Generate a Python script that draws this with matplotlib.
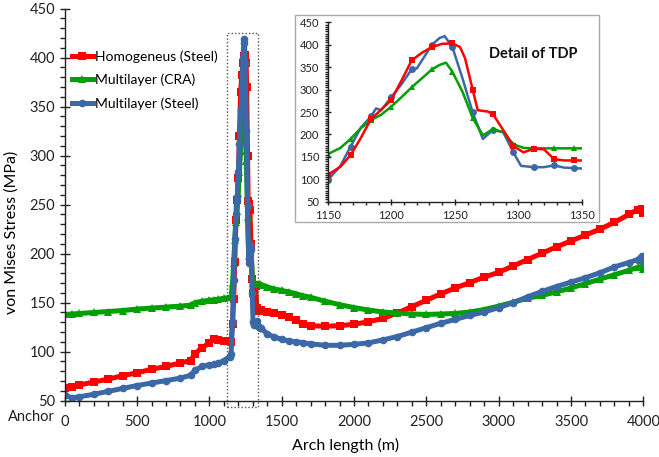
import matplotlib

matplotlib.use("Agg")
import matplotlib.pyplot as plt
import matplotlib.transforms as mtransforms
from matplotlib.patches import Rectangle
from matplotlib.ticker import MultipleLocator

plt.rcParams["font.family"] = ["Lato", "DejaVu Sans"]

# arch length (m) shared by all three models away from the touch down point
far_left_x = [0, 50, 100, 200, 300, 400, 500, 600, 700, 800, 870, 900, 950,
              1000, 1030, 1060, 1100, 1140]
far_right_x = [1360, 1400, 1450, 1500, 1550, 1600, 1650, 1700, 1800, 1900,
               2000, 2100, 2200, 2300, 2400, 2500, 2600, 2700, 2800, 2900,
               3000, 3100, 3200, 3300, 3400, 3500, 3600, 3700, 3800, 3900,
               3960, 3990, 4000]

# von Mises stress (MPa), Homogeneus (Steel)
homog_left = [63, 64, 66, 69, 72, 75.5, 78.5, 82, 85, 88.5, 91, 98, 104, 109,
              112.5, 112, 111, 110.5]
homog_tdp_x = [1150, 1160, 1168, 1176, 1184, 1192, 1200, 1208, 1216, 1224,
               1232, 1240, 1248, 1254, 1258, 1264, 1268, 1276, 1280, 1288,
               1296, 1304, 1312, 1320, 1328, 1336, 1344, 1350]
homog_tdp_y = [110, 128, 154, 192, 234, 255, 277, 320, 365, 382, 395, 402,
               403, 395, 370, 300, 254, 251, 245, 210, 174, 160, 168, 167,
               145, 142, 142, 142]
homog_right = [142.5, 141, 139, 137, 135, 132, 128, 126.5, 126, 126.5, 128,
               130.5, 134, 139.5, 146, 152.5, 159, 165, 170.5, 176, 181,
               187.5, 194, 200.5, 207, 213, 219, 225, 232, 240, 245, 246, 242]

# Multilayer (CRA)
cra_left = [138, 138.5, 139, 140, 141, 142, 143.5, 144.5, 145.5, 146.5,
            147.5, 150, 151.5, 152.5, 153, 153.5, 154.5, 155.5]
cra_tdp_x = [1150, 1160, 1168, 1176, 1184, 1192, 1200, 1208, 1216, 1224,
             1232, 1238, 1243, 1248, 1256, 1264, 1272, 1280, 1288, 1296,
             1304, 1312, 1328, 1344, 1350]
cra_tdp_y = [156, 170, 190, 214, 232, 244, 262, 283, 305, 325, 345, 355, 360,
             340, 295, 237, 198, 212, 205, 178, 170, 169, 169, 169, 169]
cra_right = [168.5, 166, 164, 162.5, 161, 159, 157, 155.5, 151.5, 148, 145,
             142.5, 140.5, 139.5, 138.5, 138, 138.5, 139, 140.5, 143, 146.5,
             150.5, 154.5, 157.5, 161, 165, 169.5, 174, 178.5, 183, 186, 187,
             184]

# Multilayer (Steel)
ml_left = [55.5, 53, 54, 56.5, 59.5, 62.5, 65.5, 68, 70.5, 73, 76, 81, 85,
           86.5, 87, 88, 91, 95]
ml_tdp_x = [1150, 1160, 1168, 1176, 1184, 1188, 1192, 1200, 1208, 1216,
            1220, 1232, 1238, 1242, 1248, 1256, 1264, 1272, 1280, 1288,
            1296, 1302, 1312, 1320, 1328, 1336, 1344, 1350]
ml_tdp_y = [98, 130, 173, 215, 240, 258, 254, 283, 312, 345, 347, 400, 415,
            419, 395, 325, 249, 190, 210, 205, 160, 130, 127, 127, 131, 126,
            125, 124]
ml_right = [124, 118, 115, 112.5, 111, 110, 109, 108, 106.5, 106.5, 107.5,
            109, 112, 115.5, 120, 124.5, 129, 133, 137, 140.5, 145, 150, 156,
            161.5, 166.5, 171, 175.5, 180.5, 186.5, 191, 194, 198, 193]

# arch lengths that carry a marker in the TDP detail
tdp_marks = [1150, 1168, 1184, 1200, 1216, 1232, 1248, 1264, 1280, 1296,
             1312, 1328, 1344]

labels = ["Homogeneus (Steel)", "Multilayer (CRA)", "Multilayer (Steel)"]
colors = ["#ff0000", "#00a000", "#3b68a6"]
markers = ["s", "^", "o"]


def build_series():
    series = []
    for left, tx, ty, right in [
        (homog_left, homog_tdp_x, homog_tdp_y, homog_right),
        (cra_left, cra_tdp_x, cra_tdp_y, cra_right),
        (ml_left, ml_tdp_x, ml_tdp_y, ml_right),
    ]:
        xs = far_left_x + tx + far_right_x
        ys = left + ty + right
        series.append((xs, ys, tx))
    return series


def style_axis(ax, xmaj, xmin, ymaj, ymin, size):
    for side in ["top", "right"]:
        ax.spines[side].set_visible(False)
    for side in ["left", "bottom"]:
        ax.spines[side].set_color("#222222")
        ax.spines[side].set_linewidth(1.0)
    ax.xaxis.set_major_locator(MultipleLocator(xmaj))
    ax.xaxis.set_minor_locator(MultipleLocator(xmin))
    ax.yaxis.set_major_locator(MultipleLocator(ymaj))
    ax.yaxis.set_minor_locator(MultipleLocator(ymin))
    ax.tick_params(which="major", direction="inout", length=7, width=1.0,
                   labelsize=size, colors="#222222")
    ax.tick_params(which="minor", direction="out", length=3.5, width=1.0,
                   colors="#222222")


def main():
    series = build_series()
    fig = plt.figure(figsize=(6.59, 4.57), dpi=100)
    ax = fig.add_axes([0.0982, 0.1232, 0.878, 0.8578])

    for (xs, ys, tx), lab, col, mk in zip(series, labels, colors, markers):
        ax.plot(xs, ys, color=col, marker=mk, markersize=5.5, linewidth=3.6,
                markeredgewidth=0, label=lab)

    ax.set_xlim(0, 4000)
    ax.set_ylim(50, 450)
    style_axis(ax, 500, 100, 50, 10, 10.5)
    ax.tick_params(axis="x", which="major", pad=7)
    ax.set_xlabel("Arch length (m)", fontsize=11.5)
    ax.set_ylabel("von Mises Stress (MPa)", fontsize=11.5)
    ax.xaxis.set_label_coords(0.485, -0.095)
    ax.yaxis.set_label_coords(-0.08, 0.43)
    fig.text(8 / 659, 1 - 417 / 457, "Anchor", fontsize=10.5, va="center",
             ha="left", color="#222222")

    # keep the last x label inside the picture
    fig.canvas.draw()
    last = ax.get_xticklabels()[-1]
    shift = mtransforms.ScaledTranslation(-3 / 72, 0, fig.dpi_scale_trans)
    last.set_transform(last.get_transform() + shift)

    # dotted box around the touch down point
    ax.add_patch(Rectangle((1120, 43.5), 215, 381.5, fill=False,
                           linestyle=(0, (1, 1.5)), edgecolor="#555555",
                           linewidth=1.0, clip_on=False, zorder=5))

    ax.legend(loc="upper left", bbox_to_anchor=(72 / 659, 1 - 50 / 457),
              bbox_transform=fig.transFigure, frameon=False, fontsize=10,
              handlelength=1.5, handletextpad=0.15, labelspacing=0.8,
              borderpad=0, borderaxespad=0)

    # detail of TDP
    frame = Rectangle((295 / 659, 1 - 222 / 457), 304 / 659, 207 / 457,
                      transform=fig.transFigure, fill=True, facecolor="white",
                      edgecolor="#aaaaaa", linewidth=1.0, zorder=1)
    fig.patches.append(frame)
    ins = fig.add_axes([0.4973, 0.5586, 0.3859, 0.3926], zorder=2)
    ins.patch.set_alpha(0)
    for i in [2, 1, 0]:
        xs, ys, tx = series[i]
        marks = [k for k, x in enumerate(xs) if x in tdp_marks and x in tx]
        ins.plot(xs, ys, color=colors[i], marker=markers[i], markersize=5,
                 linewidth=1.8, markeredgewidth=0, markevery=marks)
    ins.set_xlim(1150, 1350)
    ins.set_ylim(50, 450)
    style_axis(ins, 50, 10, 50, 5, 8)
    ins.tick_params(which="major", length=5)
    ins.tick_params(which="minor", length=2.5)
    ins.text(0.635, 0.8, "Detail of TDP", transform=ins.transAxes,
             fontsize=10.5, fontweight="bold", color="#111111")

    fig.savefig("out.png", dpi=100)
    plt.close(fig)


if __name__ == "__main__":
    main()
